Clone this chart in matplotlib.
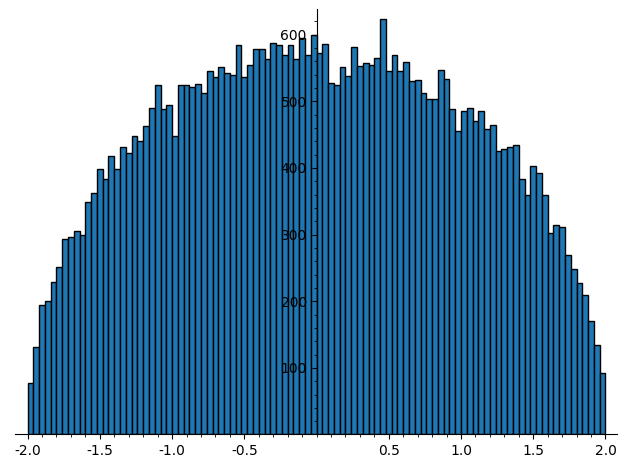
import numpy as np
import matplotlib
matplotlib.use("Agg")
import matplotlib.pyplot as plt
from matplotlib.ticker import MultipleLocator, FixedLocator

# histogram: 100 bins of width 0.04 spanning [-2, 2]
bin_start = -2.0
bin_stop = 2.0
n_bins = 100
counts = [
    78, 131, 194, 201, 229, 251, 294, 297, 306, 299,
    349, 363, 399, 383, 418, 398, 431, 422, 448, 440,
    463, 490, 524, 488, 495, 448, 524, 524, 521, 526,
    512, 546, 536, 551, 542, 539, 584, 537, 555, 579,
    579, 564, 588, 585, 570, 585, 564, 595, 569, 599,
    573, 586, 527, 525, 551, 538, 581, 553, 557, 554,
    565, 624, 545, 570, 545, 559, 530, 532, 512, 504,
    504, 547, 533, 489, 455, 485, 490, 471, 485, 458,
    464, 425, 428, 431, 435, 384, 359, 403, 393, 360,
    302, 314, 311, 270, 248, 228, 210, 171, 134, 93,
]
x_ticks = [-2.0, -1.5, -1.0, -0.5, 0.5, 1.0, 1.5, 2.0]
y_ticks = [100, 200, 300, 400, 500, 600]

edges = np.linspace(bin_start, bin_stop, n_bins + 1)
centers = 0.5 * (edges[:-1] + edges[1:])

fig = plt.figure(figsize=(6.26, 4.68), dpi=100)
ax = fig.add_axes([0.024, 0.0716, 0.961, 0.9085])

ax.hist(centers, bins=edges, weights=counts, color="#1f77b4",
        edgecolor="black", linewidth=1.0)

ax.set_xlim(-2.087, 2.077)
ax.set_ylim(0, 638)

ax.spines["left"].set_position(("data", 0))
ax.spines["bottom"].set_position(("data", 0))
ax.spines["top"].set_visible(False)
ax.spines["right"].set_visible(False)

ax.xaxis.set_major_locator(FixedLocator(x_ticks))
ax.xaxis.set_minor_locator(MultipleLocator(0.1))
ax.yaxis.set_major_locator(FixedLocator(y_ticks))
ax.yaxis.set_minor_locator(MultipleLocator(20))
ax.set_xticklabels([f"{t:.1f}" for t in x_ticks])
ax.set_yticklabels([str(t) for t in y_ticks])
ax.tick_params(labelsize=10)

fig.savefig("out.png", dpi=100)
